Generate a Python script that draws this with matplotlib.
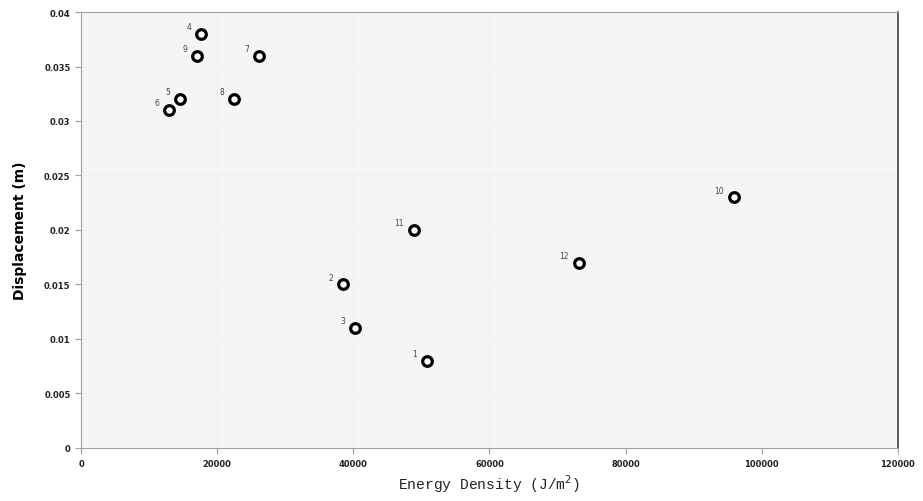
import matplotlib
matplotlib.use("Agg")
from matplotlib import pyplot as plt

# energy density (J/m^2) and displacement (m) per sample
labels = ["1", "2", "3", "4", "5", "6", "7", "8", "9", "10", "11", "12"]
energy = [50800, 38500, 40200, 17600, 14500, 12900, 26100, 22500, 17000, 95900, 48900, 73100]
displacement = [0.008, 0.015, 0.011, 0.038, 0.032, 0.031, 0.036, 0.032, 0.036, 0.023, 0.020, 0.017]

fig = plt.figure(figsize=(9.23, 5.02), dpi=100)
ax = fig.add_axes([0.0878, 0.1056, 0.885, 0.8685])
ax.set_facecolor("#f4f5f6")

ax.scatter(energy, displacement, s=48, facecolors="white", edgecolors="black",
           linewidths=2.3, zorder=3)
for lab, x, y in zip(labels, energy, displacement):
    ax.annotate(lab, (x, y), xytext=(-7, 2), textcoords="offset points",
                ha="right", va="bottom", fontsize=5.5, color="#444444")

ax.set_xlim(0, 120000)
ax.set_ylim(0, 0.04)
ax.set_xticks(range(0, 120001, 20000))
ax.set_yticks([0, 0.005, 0.01, 0.015, 0.02, 0.025, 0.03, 0.035, 0.04])
ax.set_yticklabels(["0", "0.005", "0.01", "0.015", "0.02", "0.025", "0.03", "0.035", "0.04"])
ax.grid(True, color="#eceef0", linewidth=0.6)
ax.set_axisbelow(True)

for side in ["left", "bottom", "top"]:
    ax.spines[side].set_color("#a0a0a0")
ax.spines["right"].set_color("#404040")
ax.spines["right"].set_linewidth(1.2)

ax.tick_params(axis="both", labelsize=6, colors="#a0a0a0", labelcolor="#222222",
               length=4, width=0.8, direction="out")
ax.tick_params(axis="x", pad=4)
for t in ax.get_xticklabels() + ax.get_yticklabels():
    t.set_fontweight("bold")

ax.set_xlabel("Energy Density (J/m$^2$)", family=["Liberation Mono", "DejaVu Sans Mono"],
              fontsize=10.5, color="#222222", labelpad=3)
ax.set_ylabel("Displacement (m)", family=["Liberation Sans Narrow", "DejaVu Sans"],
              fontsize=10, fontweight="bold", color="black", labelpad=12)

fig.savefig("out.png", dpi=100)
